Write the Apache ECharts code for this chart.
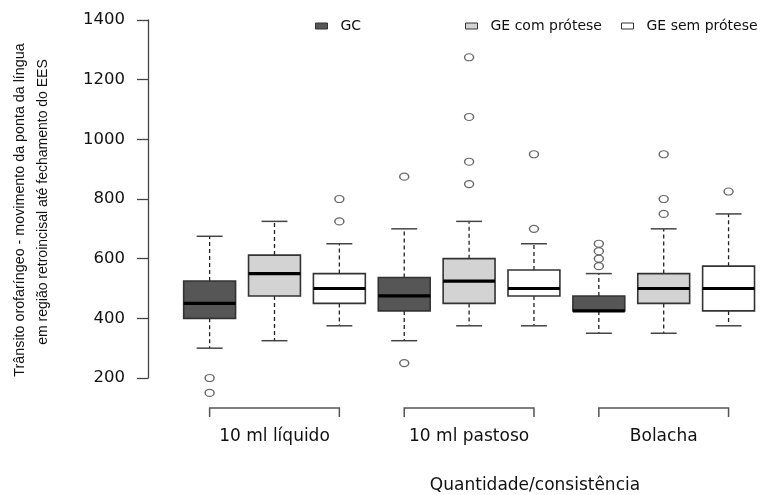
<!DOCTYPE html>
<html>
<head>
<meta charset="utf-8">
<title>Trânsito orofaríngeo</title>
<style>
	html, body { margin: 0; padding: 0; background: #fff; }
	#main { width: 761px; height: 495px; }
</style>
<script src="https://cdn.jsdelivr.net/npm/echarts@6.0.0/dist/echarts.min.js"></script>
</head>
<body>
<div id="main"></div>
<script>
// grupos do eixo x e séries
var groups = ['10 ml líquido', '10 ml pastoso', 'Bolacha'];
var seriesNames = ['GC', 'GE com prótese', 'GE sem prótese'];
var seriesColors = ['#565656', '#d3d3d3', '#ffffff'];

// [mín, Q1, mediana, Q3, máx] por grupo
var gcBox    = [[300, 400, 450, 525, 675], [325, 425, 475, 537, 700], [350, 425, 425, 475, 550]];
var geComBox = [[325, 475, 550, 612, 725], [375, 450, 525, 600, 725], [350, 450, 500, 550, 700]];
var geSemBox = [[375, 450, 500, 550, 650], [375, 475, 500, 562, 650], [375, 425, 500, 575, 750]];

// outliers por grupo
var gcOut    = [[200, 150], [875, 250], [575, 600, 625, 650]];
var geComOut = [[], [1275, 1075, 925, 850], [950, 800, 750]];
var geSemOut = [[800, 725], [950, 700], [825]];

var yTicks = [200, 400, 600, 800, 1000, 1200, 1400];

var boxSets = [gcBox, geComBox, geSemBox];
var outSets = [gcOut, geComOut, geSemOut];

// posição de cada caixa: 3 por grupo, lado a lado
function boxPos(g, s) { return 3 * g + s + 1; }

function boxData(s) {
	return boxSets[s].map(function (q, g) { return [boxPos(g, s)].concat(q); });
}
function outData(s) {
	var list = [];
	outSets[s].forEach(function (vals, g) {
		vals.forEach(function (v) { list.push([boxPos(g, s), v]); });
	});
	return list;
}

// desenha uma caixa estilo R
function renderBox(params, api) {
	var x = api.value(0);
	var pMin = api.coord([x, api.value(1)]);
	var pQ1 = api.coord([x, api.value(2)]);
	var pMed = api.coord([x, api.value(3)]);
	var pQ3 = api.coord([x, api.value(4)]);
	var pMax = api.coord([x, api.value(5)]);
	var w = api.size([0.8, 0])[0];
	var cx = pMed[0];
	var dash = { stroke: '#222', lineWidth: 1.3, lineDash: [4, 3] };
	var cap = { stroke: '#444', lineWidth: 1.5 };
	return {
		type: 'group',
		children: [
			{ type: 'line', shape: { x1: cx, y1: pQ3[1], x2: cx, y2: pMax[1] }, style: dash },
			{ type: 'line', shape: { x1: cx, y1: pQ1[1], x2: cx, y2: pMin[1] }, style: dash },
			{ type: 'line', shape: { x1: cx - w / 4, y1: pMax[1], x2: cx + w / 4, y2: pMax[1] }, style: cap },
			{ type: 'line', shape: { x1: cx - w / 4, y1: pMin[1], x2: cx + w / 4, y2: pMin[1] }, style: cap },
			{ type: 'rect', shape: { x: cx - w / 2, y: pQ3[1], width: w, height: pQ1[1] - pQ3[1] },
				style: { fill: api.visual('color'), stroke: '#333', lineWidth: 1.6 } },
			{ type: 'line', shape: { x1: cx - w / 2, y1: pMed[1], x2: cx + w / 2, y2: pMed[1] },
				style: { stroke: '#000', lineWidth: 3.2 } }
		]
	};
}

// colchetes do eixo x (da primeira à terceira caixa de cada grupo)
function renderBracket(params, api) {
	var a = api.coord([api.value(0), yTicks[0]]);
	var b = api.coord([api.value(1), yTicks[0]]);
	var y = params.coordSys.y + params.coordSys.height + 30;
	return {
		type: 'polyline',
		shape: { points: [[a[0], y + 9], [a[0], y], [b[0], y], [b[0], y + 9]] },
		style: { stroke: '#555', lineWidth: 1.5, fill: 'none' }
	};
}

var series = [];
seriesNames.forEach(function (name, s) {
	series.push({
		name: name,
		type: 'custom',
		renderItem: renderBox,
		itemStyle: { color: seriesColors[s] },
		dimensions: ['x', 'min', 'q1', 'median', 'q3', 'max'],
		encode: { x: 0, y: [1, 2, 3, 4, 5] },
		data: boxData(s),
		z: 2
	});
	series.push({
		name: name + ' outliers',
		type: 'scatter',
		symbol: 'circle',
		symbolSize: [9, 7],
		clip: false,
		itemStyle: { color: '#fff', borderColor: '#444', borderWidth: 1.3 },
		data: outData(s),
		z: 3
	});
});
series.push({
	name: 'grupos',
	type: 'custom',
	renderItem: renderBracket,
	data: groups.map(function (g, i) { return [boxPos(i, 0), boxPos(i, 2)]; }),
	silent: true
});

var legendFont = { fontFamily: 'DejaVu Sans', fontSize: 14, color: '#111', padding: [0, 0, 0, 8] };

var option = {
	animation: false,
	backgroundColor: '#fff',
	grid: { left: 148, top: 20, width: 614, height: 358 },
	legend: seriesNames.map(function (name, i) {
		return {
			data: [{ name: name, itemStyle: { color: seriesColors[i], borderColor: '#333', borderWidth: 1 } }],
			left: [315, 465, 621][i],
			top: 19,
			padding: 0,
			icon: 'rect',
			itemWidth: 12,
			itemHeight: 6,
			selectedMode: false,
			textStyle: legendFont
		};
	}),
	xAxis: {
		type: 'value',
		min: 0.05,
		max: 9.5,
		axisLine: { show: false },
		axisTick: { show: false },
		splitLine: { show: false },
		axisLabel: {
			customValues: groups.map(function (g, i) { return boxPos(i, 1); }),
			formatter: function (v) { return groups[Math.round((v - 2) / 3)]; },
			margin: 50,
			fontFamily: 'DejaVu Sans',
			fontSize: 17,
			color: '#111'
		}
	},
	yAxis: {
		type: 'value',
		min: yTicks[0],
		max: yTicks[yTicks.length - 1],
		interval: yTicks[1] - yTicks[0],
		axisLine: { show: true, lineStyle: { color: '#444', width: 1.3 } },
		axisTick: { show: true, length: 11, lineStyle: { color: '#444', width: 1.3 } },
		splitLine: { show: false },
		axisLabel: {
			margin: 23,
			formatter: function (v) { return String(v); },
			fontFamily: 'DejaVu Sans',
			fontSize: 16.5,
			color: '#111'
		}
	},
	graphic: [
		{ type: 'text', x: 20, y: 210, rotation: Math.PI / 2,
			style: { text: 'Trânsito orofaríngeo - movimento da ponta da língua', fontFamily: 'Liberation Sans',
				fontSize: 14.3, fill: '#111', align: 'center', verticalAlign: 'middle' } },
		{ type: 'text', x: 43, y: 202, rotation: Math.PI / 2,
			style: { text: 'em região retroincisal até fechamento do EES', fontFamily: 'Liberation Sans',
				fontSize: 14, fill: '#111', align: 'center', verticalAlign: 'middle' } },
		{ type: 'text', x: 535, y: 486,
			style: { text: 'Quantidade/consistência', fontFamily: 'DejaVu Sans', fontSize: 17,
				fill: '#111', align: 'center', verticalAlign: 'middle' } }
	],
	series: series
};

var myChart = echarts.init(document.getElementById('main'));
myChart.setOption(option);
</script>
</body>
</html>
